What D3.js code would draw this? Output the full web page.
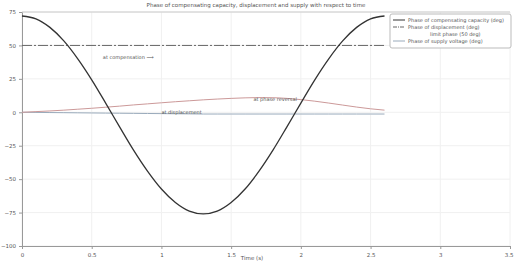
<!DOCTYPE html>
<html>
<head>
<meta charset="utf-8">
<script src="https://cdn.jsdelivr.net/npm/d3@7"></script>
<style>
  body { margin: 0; background: #fff; }
  text { font-family: "DejaVu Sans", sans-serif; fill: #555; }
</style>
</head>
<body>
<svg width="514" height="262"></svg>
<script>
// time samples (s)
const time = [0, 0.1, 0.2, 0.3, 0.4, 0.5, 0.6, 0.7, 0.8, 0.9, 1.0, 1.1, 1.2, 1.3,
              1.4, 1.5, 1.6, 1.7, 1.8, 1.9, 2.0, 2.1, 2.2, 2.3, 2.4, 2.5, 2.6];
// phase of compensating capacity (deg)
const phaseComp = [72, 69.9, 63.5, 53.4, 40.0, 24.3, 6.9, -10.9, -28.3, -44.0, -57.4, -67.5, -73.9, -76,
                   -73.9, -67.5, -57.4, -44.0, -28.3, -10.9, 6.9, 24.3, 40.0, 53.4, 63.5, 69.9, 72];
// phase of displacement (deg)
const phaseDisp = [0, 0.5, 1, 1.6, 2.3, 3, 3.8, 4.6, 5.5, 6.3, 7.1, 7.9, 8.6, 9.3,
                   9.9, 10.4, 10.8, 11, 10.9, 10.4, 9.5, 8.3, 6.9, 5.4, 3.9, 2.6, 1.6];
// phase of supply (deg)
const phaseSupply = [0, -0.1, -0.2, -0.3, -0.4, -0.5, -0.6, -0.7, -0.8, -0.9, -1, -1.1, -1.2, -1.3,
                     -1.3, -1.3, -1.3, -1.3, -1.3, -1.3, -1.3, -1.3, -1.3, -1.3, -1.3, -1.3, -1.3];
// limit line (deg)
const limitTime = [0, 2.6];
const limitValue = [50, 50];

const xTicks = [0, 0.5, 1, 1.5, 2, 2.5, 3, 3.5];
const yTicks = [75, 50, 25, 0, -25, -50, -75, -100];

const titleText = 'Phase of compensating capacity, displacement and supply with respect to time';
const legendLabels = ['Phase of compensating capacity (deg)', 'Phase of displacement (deg)',
                      'limit phase (50 deg)', 'Phase of supply voltage (deg)'];

const svg = d3.select('svg'),
      margin = { top: 12, right: 4, bottom: 16, left: 22 },
      width = 514 - margin.left - margin.right,
      height = 262 - margin.top - margin.bottom,
      g = svg.append('g').attr('transform', `translate(${margin.left},${margin.top})`);

const x = d3.scaleLinear().domain([0, 3.5]).range([0, width]);
const y = d3.scaleLinear().domain([-100, 75]).range([height, 0]);

// grid
g.append('g')
    .selectAll('line')
    .data(xTicks)
    .enter().append('line')
    .attr('x1', d => x(d)).attr('x2', d => x(d))
    .attr('y1', 0).attr('y2', height)
    .attr('stroke', '#f0f0f0');
g.append('g')
    .selectAll('line')
    .data(yTicks)
    .enter().append('line')
    .attr('x1', 0).attr('x2', width)
    .attr('y1', d => y(d)).attr('y2', d => y(d))
    .attr('stroke', '#f0f0f0');

// axes
const xAxis = g.append('g')
    .attr('transform', `translate(0,${height})`)
    .call(d3.axisBottom(x).tickValues(xTicks).tickSize(3).tickFormat(d3.format('')));
const yAxis = g.append('g')
    .call(d3.axisLeft(y).tickValues(yTicks).tickSize(3));
[xAxis, yAxis].forEach(a => {
    a.selectAll('path, line').attr('stroke', '#999');
    a.selectAll('text').attr('font-size', 5.5).style('fill', '#555');
});
xAxis.selectAll('text').attr('dy', '0.9em');
xAxis.selectAll('.tick:last-of-type text').attr('text-anchor', 'end').attr('dx', 3);

// top frame
g.append('line')
    .attr('x1', 0).attr('x2', width).attr('y1', 0).attr('y2', 0)
    .attr('stroke', '#ccc');

const line = d3.line()
    .x(d => x(d[0]))
    .y(d => y(d[1]))
    .curve(d3.curveMonotoneX);

// limit line
g.append('path')
    .datum(d3.zip(limitTime, limitValue))
    .attr('fill', 'none')
    .attr('stroke', '#666')
    .attr('stroke-width', 1)
    .attr('stroke-dasharray', '10,2,2,2')
    .attr('d', line);

// supply
g.append('path')
    .datum(d3.zip(time, phaseSupply))
    .attr('fill', 'none')
    .attr('stroke', '#9ab')
    .attr('stroke-width', 1)
    .attr('d', line);

// displacement
g.append('path')
    .datum(d3.zip(time, phaseDisp))
    .attr('fill', 'none')
    .attr('stroke', '#c99')
    .attr('stroke-width', 1)
    .attr('d', line);

// compensating capacity
g.append('path')
    .datum(d3.zip(time, phaseComp))
    .attr('fill', 'none')
    .attr('stroke', '#333')
    .attr('stroke-width', 1.3)
    .attr('d', line);

// annotations
g.append('text')
    .attr('x', x(0.58)).attr('y', y(40))
    .attr('font-size', 5).text('at compensation ⟶');
g.append('text')
    .attr('x', x(1.0)).attr('y', y(-1.5))
    .attr('font-size', 5).text('at displacement');
g.append('text')
    .attr('x', x(1.66)).attr('y', y(8.5))
    .attr('font-size', 5).text('at phase reversal');

// title
svg.append('text')
    .attr('x', 256).attr('y', 7)
    .attr('text-anchor', 'middle')
    .attr('font-size', 5.5)
    .text(titleText);

// x label
svg.append('text')
    .attr('x', margin.left + x(1.65)).attr('y', 260)
    .attr('text-anchor', 'middle')
    .attr('font-size', 5.5)
    .text('Time (s)');

// legend
const lg = svg.append('g').attr('transform', 'translate(390,14)');
lg.append('rect')
    .attr('width', 121).attr('height', 34)
    .attr('fill', '#fff').attr('stroke', '#bbb').attr('rx', 2);
const legendStyles = [
    { stroke: '#333', dash: null, y: 6 },
    { stroke: '#666', dash: '4,1,1,1', y: 13 },
    { stroke: null, dash: null, y: 20 },
    { stroke: '#9ab', dash: null, y: 27 }
];
legendStyles.forEach((s, i) => {
    if (s.stroke) {
        lg.append('line')
            .attr('x1', 3).attr('x2', 15)
            .attr('y1', s.y).attr('y2', s.y)
            .attr('stroke', s.stroke)
            .attr('stroke-dasharray', s.dash);
    }
    lg.append('text')
        .attr('x', s.stroke ? 18 : 40).attr('y', s.y + 2)
        .attr('font-size', 5)
        .text(legendLabels[i]);
});
</script>
</body>
</html>
